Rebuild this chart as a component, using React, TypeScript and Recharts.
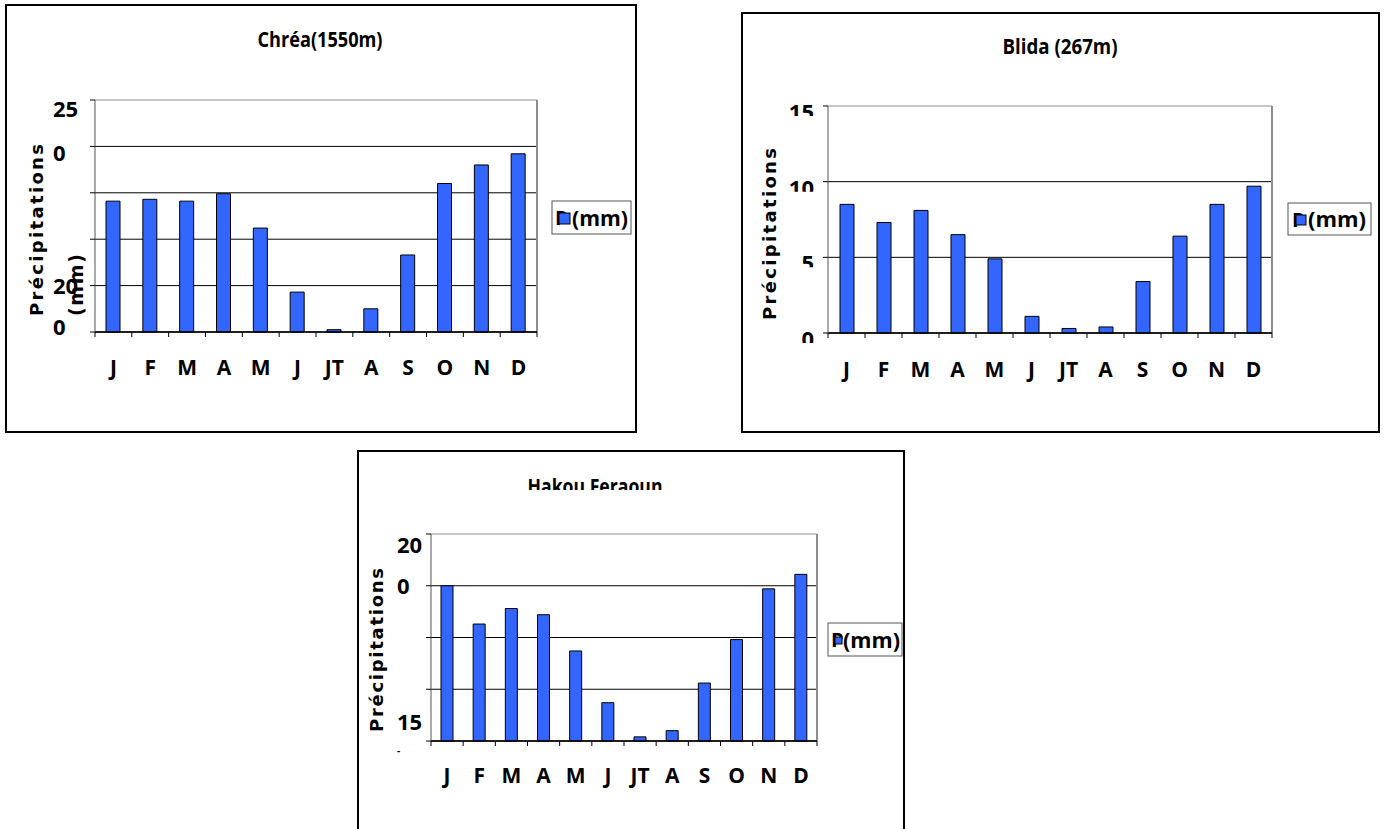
import React from 'react';
import { BarChart, Bar, XAxis, YAxis, CartesianGrid } from 'recharts';

// ---------------------------------------------------------------------------
// Data
// ---------------------------------------------------------------------------

const MONTHS = ['J', 'F', 'M', 'A', 'M', 'J', 'JT', 'A', 'S', 'O', 'N', 'D'];

const CHREA_P = [141, 143, 141, 149, 112, 43, 2.5, 25, 83, 160, 180, 192];
const BLIDA_P = [8.5, 7.3, 8.1, 6.5, 4.9, 1.1, 0.3, 0.4, 3.4, 6.4, 8.5, 9.7];
const HAKOU_P = [150, 113, 128, 122, 87, 37, 4, 10, 56, 98, 147, 161];

const CHREA_TICKS = [0, 50, 100, 150, 200, 250];
const CHREA_TICK_TEXT = ['0', '20', '', '', '0', '25'];
const BLIDA_TICKS = [0, 5, 10, 15];
const BLIDA_TICK_TEXT = ['0', '5', '10', '15'];
const HAKOU_TICKS = [0, 50, 100, 150, 200];
const HAKOU_TICK_TEXT = ['-', '15', '', '0', '20'];

const SERIES_NAME = 'P';

// ---------------------------------------------------------------------------
// Layout / style (page coordinates)
// ---------------------------------------------------------------------------

const BAR_BLUE = '#3366ff';
const GRAY = '#8c8c8c';
const TICK_FONT = '"Open Sans", Lato, sans-serif';
const LABEL_FONT = '"DejaVu Sans", Verdana, sans-serif';

interface Cfg {
  id: string;
  frame: { x: number; y: number; w: number; h: number };
  plot: { l: number; t: number; r: number; b: number };
  yMax: number;
  barSize: number;
  xLabelY: number;
  tickAnchor: 'start' | 'end';
  tickX: number;
  tickDy: number[];
  tickClip?: number;
  title: { text: string; x: number; base: number; len: number; clipBottom?: number };
  yTitle: { x: number; y: number; len: number };
  yTitle2?: { text: string; x: number; y: number; len: number };
  legend: { x: number; y: number; w: number; h: number; text: string; px: number; tx: number; tlen: number; sq: number };
}

const CHREA_CFG: Cfg = {
  id: 'chrea',
  frame: { x: 5, y: 4, w: 632, h: 429 },
  plot: { l: 95, t: 100, r: 537, b: 332 },
  yMax: 250,
  barSize: 14,
  xLabelY: 367,
  tickAnchor: 'start',
  tickX: 53,
  tickDy: [-6, -1, 0, 0, 6, 8],
  title: { text: 'Chréa(1550m)', x: 320, base: 47, len: 125 },
  yTitle: { x: 36, y: 230, len: 172 },
  yTitle2: { text: '(mm)', x: 76, y: 285, len: 62 },
  legend: { x: 552, y: 201, w: 79, h: 33, text: '(mm)', px: 555, tx: 572, tlen: 56, sq: 11 },
};

const BLIDA_CFG: Cfg = {
  id: 'blida',
  frame: { x: 741, y: 12, w: 639, h: 421 },
  plot: { l: 828, t: 106, r: 1272, b: 333 },
  yMax: 15,
  barSize: 14,
  xLabelY: 369,
  tickAnchor: 'end',
  tickX: 814,
  tickDy: [0, 0, 0, 0],
  tickClip: 10,
  title: { text: 'Blida (267m)', x: 1060, base: 54, len: 115 },
  yTitle: { x: 769, y: 234, len: 172 },
  legend: { x: 1288, y: 203, w: 83, h: 32, text: '(mm)', px: 1292, tx: 1308, tlen: 58, sq: 10 },
};

const HAKOU_CFG: Cfg = {
  id: 'hakou',
  frame: { x: 357, y: 450, w: 548, h: 400 },
  plot: { l: 431, t: 534, r: 817, b: 741 },
  yMax: 200,
  barSize: 12,
  xLabelY: 775,
  tickAnchor: 'start',
  tickX: 397,
  tickDy: [9, 32, 0, -1, 10],
  title: { text: 'Hakou Feraoun', x: 595, base: 494, len: 135, clipBottom: 490 },
  yTitle: { x: 376, y: 650, len: 164 },
  legend: { x: 828, y: 623, w: 74, h: 33, text: '(mm)', px: 831, tx: 843, tlen: 57, sq: 7 },
};

// ---------------------------------------------------------------------------
// One station chart
// ---------------------------------------------------------------------------

function StationChart({ cfg, values, ticks, tickText }: { cfg: Cfg; values: number[]; ticks: number[]; tickText: string[] }) {
  const { frame, plot } = cfg;
  const W = frame.w;
  const H = frame.h;
  const L = plot.l - frame.x;
  const T = plot.t - frame.y;
  const R = plot.r - frame.x;
  const B = plot.b - frame.y;
  const yAxisW = 20;
  const xAxisH = 30;
  const band = (R - L) / values.length;
  const data = MONTHS.map((m, i) => ({ m, p: values[i] }));

  const XTick = (props: any) => {
    const { x, payload, index } = props;
    return (
      <g>
        <line x1={x - band / 2} x2={x - band / 2} y1={B} y2={B + 5} stroke="#000" />
        {index === values.length - 1 && <line x1={x + band / 2} x2={x + band / 2} y1={B} y2={B + 5} stroke="#000" />}
        <text
          x={x}
          y={cfg.xLabelY - frame.y}
          textAnchor="middle"
          dominantBaseline="central"
          fontFamily={TICK_FONT}
          fontWeight={700}
          fontSize={21}
          fill="#000"
        >
          {payload.value}
        </text>
      </g>
    );
  };

  const YTick = (props: any) => {
    const { y, payload } = props;
    const i = ticks.indexOf(payload.value);
    const txt = tickText[i];
    if (!txt) return <g />;
    const tx = cfg.tickX - frame.x;
    if (cfg.tickClip !== undefined) {
      const cid = `${cfg.id}-tc-${i}`;
      return (
        <g>
          <clipPath id={cid}>
            <rect x={0} y={y - 8} width={L} height={cfg.tickClip + 8} />
          </clipPath>
          <text
            x={tx}
            y={y + 14}
            textAnchor={cfg.tickAnchor}
            fontFamily={TICK_FONT}
            fontWeight={700}
            fontSize={22}
            fill="#000"
            clipPath={`url(#${cid})`}
          >
            {txt}
          </text>
        </g>
      );
    }
    return (
      <text
        x={tx}
        y={y + cfg.tickDy[i]}
        textAnchor={cfg.tickAnchor}
        dominantBaseline="central"
        fontFamily={TICK_FONT}
        fontWeight={700}
        fontSize={txt === '-' ? 10 : 22}
        fill="#000"
      >
        {txt}
      </text>
    );
  };

  const lg = cfg.legend;
  const lgMidY = lg.y + lg.h / 2 - frame.y;

  return (
    <div style={{ position: 'absolute', left: frame.x, top: frame.y, width: W, height: H }}>
      <div
        style={{
          position: 'absolute',
          left: 0,
          top: 0,
          width: W,
          height: H,
          border: '2px solid #000',
          boxSizing: 'border-box',
        }}
      />
      <div style={{ position: 'absolute', left: 0, top: 0 }}>
        <BarChart
          width={W}
          height={H}
          data={data}
          margin={{ top: T, left: L - yAxisW, right: W - R, bottom: H - B - xAxisH }}
        >
          <CartesianGrid
            horizontal={(p: any) => (
              <line
                key={`h-${p.index}-${p.y1}`}
                x1={p.x1}
                x2={p.x2}
                y1={p.y1}
                y2={p.y2}
                stroke={Math.abs(p.y1 - T) < 1 ? GRAY : '#000'}
                strokeWidth={1}
              />
            )}
            vertical={(p: any) => (
              <line key={`v-${p.index}-${p.x1}`} x1={p.x1} x2={p.x2} y1={p.y1} y2={p.y2} stroke={GRAY} strokeWidth={2} />
            )}
            verticalCoordinatesGenerator={() => [R]}
          />
          <XAxis
            dataKey="m"
            height={xAxisH}
            interval={0}
            tickLine={false}
            axisLine={{ stroke: '#000', strokeWidth: 1.5 }}
            tick={XTick}
          />
          <YAxis
            width={yAxisW}
            domain={[0, cfg.yMax]}
            ticks={ticks}
            interval={0}
            tickSize={5}
            tickLine={{ stroke: '#000' }}
            axisLine={{ stroke: '#555' }}
            tick={YTick}
          />
          <Bar
            dataKey="p"
            name={SERIES_NAME}
            fill={BAR_BLUE}
            stroke="#000"
            strokeWidth={1}
            barSize={cfg.barSize}
            isAnimationActive={false}
          />
        </BarChart>
      </div>
      <svg width={W} height={H} style={{ position: 'absolute', left: 0, top: 0, pointerEvents: 'none' }}>
        {cfg.title.clipBottom !== undefined && (
          <clipPath id={`${cfg.id}-title-clip`}>
            <rect x={0} y={0} width={W} height={cfg.title.clipBottom - frame.y} />
          </clipPath>
        )}
        <text
          x={cfg.title.x - frame.x}
          y={cfg.title.base - frame.y}
          textAnchor="middle"
          fontFamily={TICK_FONT}
          fontWeight={700}
          fontSize={21}
          textLength={cfg.title.len}
          lengthAdjust="spacingAndGlyphs"
          fill="#000"
          clipPath={cfg.title.clipBottom !== undefined ? `url(#${cfg.id}-title-clip)` : undefined}
        >
          {cfg.title.text}
        </text>
        <text
          transform={`translate(${cfg.yTitle.x - frame.x},${cfg.yTitle.y - frame.y}) rotate(-90)`}
          textAnchor="middle"
          dominantBaseline="central"
          fontFamily={LABEL_FONT}
          fontWeight={700}
          fontSize={18}
          textLength={cfg.yTitle.len}
          lengthAdjust="spacing"
          fill="#000"
        >
          Précipitations
        </text>
        {cfg.yTitle2 && (
          <text
            transform={`translate(${cfg.yTitle2.x - frame.x},${cfg.yTitle2.y - frame.y}) rotate(-90)`}
            textAnchor="middle"
            dominantBaseline="central"
            fontFamily={LABEL_FONT}
            fontWeight={700}
            fontSize={19}
            textLength={cfg.yTitle2.len}
            lengthAdjust="spacing"
            fill="#000"
          >
            {cfg.yTitle2.text}
          </text>
        )}
        <rect x={lg.x - frame.x} y={lg.y - frame.y} width={lg.w} height={lg.h} fill="#fff" stroke="#555" strokeWidth={1} />
        <text
          x={lg.px - frame.x}
          y={lgMidY}
          dominantBaseline="central"
          fontFamily={TICK_FONT}
          fontWeight={700}
          fontSize={20}
          fill="#000"
        >
          {SERIES_NAME}
        </text>
        <rect
          x={lg.px - frame.x + 4}
          y={lgMidY - lg.sq / 2 + 1}
          width={lg.sq}
          height={lg.sq}
          fill={BAR_BLUE}
          stroke="#000"
          strokeWidth={1}
        />
        <text
          x={lg.tx - frame.x}
          y={lgMidY}
          dominantBaseline="central"
          fontFamily={TICK_FONT}
          fontWeight={700}
          fontSize={21}
          textLength={lg.tlen}
          lengthAdjust="spacingAndGlyphs"
          fill="#000"
        >
          {lg.text}
        </text>
      </svg>
    </div>
  );
}

export default function App() {
  return (
    <div
      style={{
        position: 'absolute',
        left: 0,
        top: 0,
        width: 1384,
        height: 829,
        overflow: 'hidden',
        background: '#fff',
      }}
    >
      <StationChart cfg={CHREA_CFG} values={CHREA_P} ticks={CHREA_TICKS} tickText={CHREA_TICK_TEXT} />
      <StationChart cfg={BLIDA_CFG} values={BLIDA_P} ticks={BLIDA_TICKS} tickText={BLIDA_TICK_TEXT} />
      <StationChart cfg={HAKOU_CFG} values={HAKOU_P} ticks={HAKOU_TICKS} tickText={HAKOU_TICK_TEXT} />
    </div>
  );
}
